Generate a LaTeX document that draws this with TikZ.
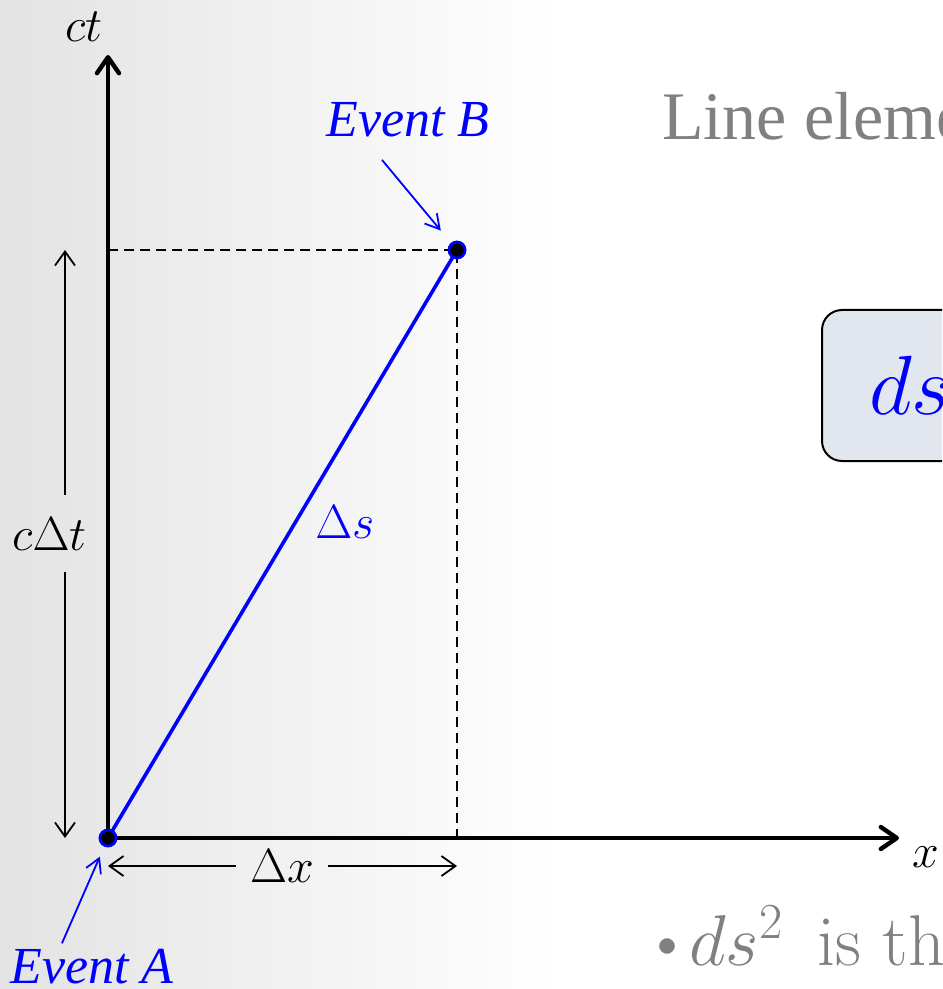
\RequirePackage{fix-cm}
\documentclass[tikz,border=0pt]{standalone}
\usepackage{fontspec}
\newfontfamily\slidefont{Liberation Serif}
\usetikzlibrary{arrows.meta}
\definecolor{boxfill}{RGB}{225,230,239}
\definecolor{slidegray}{RGB}{128,128,128}
\tikzset{axis/.style={
    line width=2.2pt,
    -{Straight Barb[length=8pt,width=11pt,round]}
  },
  wline/.style={blue,line width=1.8pt},
  guide/.style={line width=0.9pt,dash pattern=on 5pt off 3pt},
  dimarrow/.style={line width=0.9pt,-{Straight Barb[length=7pt,width=10pt]}},
  ptr/.style={blue,line width=0.9pt,-{Straight Barb[length=7pt,width=8pt]}},
  evdot/.style={circle,fill=black,draw=blue,line width=1.3pt,inner sep=0pt,minimum size=8pt},
  mlabel/.style={inner sep=0pt,font=\fontsize{24}{28}\selectfont},
  evlabel/.style={inner sep=0pt,text=blue,font=\slidefont\itshape\fontsize{26}{30}\selectfont},
  eqbox/.style={
    rectangle,
    draw,
    rounded corners=10pt,
    line width=1pt,
    fill=boxfill,
    text width=120pt,
    align=left,
    inner xsep=23.5pt,
    minimum height=75.5pt
  }
}
\begin{document}
\begin{tikzpicture}[x=0.5pt,y=-0.5pt]
  \useasboundingbox (0,0) rectangle (942,989);
  \clip (0,0) rectangle (942,989);
  \fill[white] (0,0) rectangle (942,989);
  \shade[left color=black!11,middle color=black!3,right color=white] (0,0) rectangle (560,989);
  % events and axes
  \node [evdot] (A) at (108,838) {};
  \node [evdot] (B) at (457,250) {};
  \coordinate (ctend) at (108,55);
  \coordinate (xend) at (899,838);
  \coordinate (tick) at (65,838);
  \draw[guide] (B -| A) -- (B.center) -- (B |- A);
  \draw[axis] (A.center) -- (ctend);
  \draw[axis] (A.center) -- (xend);
  \draw[wline] (A.center) -- (B.center);
  \node [evdot] at (A) {};
  \node [evdot] at (B) {};
  \node [mlabel,anchor=base] (ctlab) at (84,42) {$ct$};
  \node [mlabel,anchor=base west] (xlab) at (912,867) {$x$};
  \node [mlabel,anchor=base west,text=blue] (dslab) at (315,538) {$\Delta s$};
  % interval marks
  \node [mlabel,anchor=base west,inner ysep=11pt] (cdt) at (12,550) {$c\Delta t$};
  \draw[dimarrow] (cdt.north -| tick) -- (tick |- B);
  \draw[dimarrow] (cdt.south -| tick) -- (tick);
  \node [mlabel,inner xsep=7pt] (dx) at (282,866) {$\Delta x$};
  \draw[dimarrow] (dx.west) -- (dx.west -| A);
  \draw[dimarrow] (dx.east) -- (dx.east -| B);
  % event names
  \node [evlabel,anchor=base west] (evB) at (326,137) {Event B};
  \node [evlabel,anchor=base west] (evA) at (10,983) {Event A};
  \draw[ptr,shorten >=8pt] ([xshift=-13pt,yshift=-11pt]evB.south) -- (B);
  \draw[ptr,shorten >=5.5pt] ([xshift=-15pt,yshift=2.5pt]evA.north) -- (A);
  % slide text
  \node [anchor=base west,inner sep=0pt,text=slidegray,font=\slidefont\fontsize{34}{40}\selectfont] (title) at (662,140) {Line eleme};
  \node [eqbox,anchor=north west,font=\fontsize{42}{48}\selectfont,text=blue] (eq) at (821,309) {$ds$};
  \node [anchor=base west,inner sep=0pt,text=slidegray,font=\fontsize{36}{42}\selectfont] (note) at (657,965)
    {\raisebox{4.5pt}{\fontsize{20}{22}\selectfont$\bullet$}$\,ds^2$\, is th};
\end{tikzpicture}
\end{document}
